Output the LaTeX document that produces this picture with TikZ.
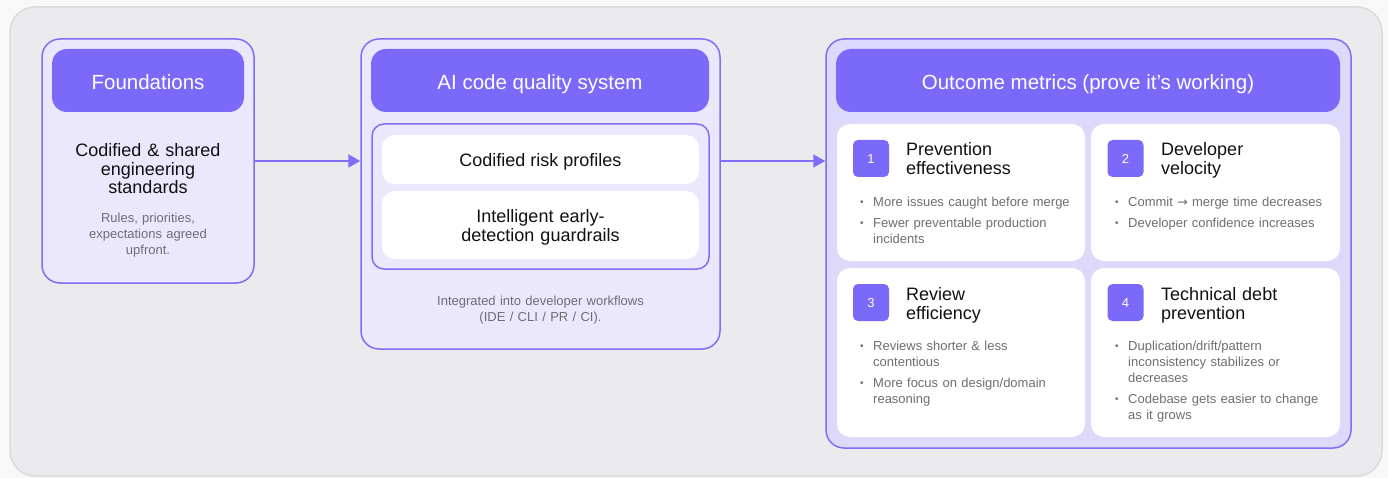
\documentclass[tikz,border=0pt]{standalone}
\usepackage{fontspec}
\setmainfont{Liberation Sans}
\newfontfamily\symfont{DejaVu Sans}
\usetikzlibrary{arrows.meta}
\definecolor{pagebg}{HTML}{F8F8F8}
\definecolor{outerfill}{HTML}{EBEBED}
\definecolor{outerline}{HTML}{DCDCDE}
\definecolor{lav}{HTML}{EBE8FD}
\definecolor{lavdeep}{HTML}{DDD9FA}
\definecolor{purp}{HTML}{7B69FA}
\definecolor{purpline}{HTML}{7F6EF6}
\definecolor{graytxt}{HTML}{6E6E73}
\definecolor{inktxt}{HTML}{111111}
\tikzset{
  box/.style={draw=purpline, line width=1.5pt, fill=lav, rounded corners=18pt, inner sep=0pt},
  hdr/.style={fill=purp, rounded corners=15pt, inner sep=0pt, text=white,
    font=\fontsize{20.5}{22}\selectfont, text height=18pt, text depth=0pt},
  card/.style={fill=white, rounded corners=13pt, inner sep=0pt},
  body/.style={text=inktxt, inner sep=0pt, align=center, anchor=base},
  note/.style={text=graytxt, inner sep=0pt, align=center, anchor=base,
    font=\fontsize{13}{16}\selectfont},
  ctitle/.style={text=inktxt, inner sep=0pt, align=left, anchor=base west,
    text width=170pt, font=\fontsize{18}{19}\selectfont},
  bul/.style={text=graytxt, inner sep=0pt, align=left, anchor=base west,
    text width=230pt, font=\fontsize{13}{16}\selectfont},
  sq/.style={fill=purp, rounded corners=5pt, inner sep=0pt, minimum width=36pt,
    minimum height=37pt, text=white, font=\fontsize{13}{13}\selectfont,
    text height=9.3pt, text depth=0pt},
  arr/.style={draw=purpline, line width=2pt, -{Triangle[length=12pt,width=13pt]}}
}
\newcommand{\bdot}{\makebox[13pt][l]{\raisebox{1.4pt}{\fontsize{10}{10}\selectfont\textbullet}}}
\newcommand{\bind}{\hspace*{13pt}}
\newcommand{\rarr}{{\symfont\fontsize{12.5}{10}\selectfont →}}
\begin{document}
\begin{tikzpicture}[x=1pt,y=-1pt]
\useasboundingbox (0,0) rectangle (1388,478);
\fill[pagebg] (0,0) rectangle (1388,478);
\draw[outerline, fill=outerfill, line width=1.5pt, rounded corners=25pt] (10,7) rectangle (1382,476);

% Foundations
\node[box, minimum width=212pt, minimum height=244pt] (found) at (148,161) {};
\node[hdr, minimum width=192pt, minimum height=63pt] (foundH) at (148,80.5) {Foundations};
\node[body, text width=200pt, font=\fontsize{18}{18.5}\selectfont] (foundT) at (148,157)
  {Codified \& shared\\engineering\\standards};
\node[note, text width=200pt] (foundN) at (148,222.5) {Rules, priorities,\\expectations agreed\\upfront.};

% AI code quality system
\node[box, minimum width=359pt, minimum height=310pt] (mid) at (540.5,194) {};
\node[hdr, minimum width=338pt, minimum height=63pt] (midH) at (540,80.5) {AI code quality system};
\node[box, rounded corners=12pt, minimum width=337pt, minimum height=145pt] (inner) at (540.5,196.5) {};
\node[card, minimum width=317pt, minimum height=49pt, text=inktxt,
  font=\fontsize{18}{19}\selectfont, text height=14pt, text depth=0pt] (cardA) at (540.5,159.5) {Codified risk profiles};
\node[card, minimum width=317pt, minimum height=68pt] (cardB) at (540.5,225) {};
\node[body, text width=300pt, font=\fontsize{18}{19}\selectfont] (cardBT) at (540.5,223)
  {Intelligent early-\\detection guardrails};
\node[note, text width=330pt] (midN) at (540.5,305) {Integrated into developer workflows\\(IDE / CLI / PR / CI).};

% Outcome metrics
\node[box, fill=lavdeep, minimum width=525pt, minimum height=409pt] (out) at (1088.5,243.5) {};
\node[hdr, minimum width=504pt, minimum height=63pt] (outH) at (1088,80.5) {Outcome metrics (prove it’s working)};
\node[card, minimum width=248pt, minimum height=137pt] (c1) at (961,192.5) {};
\node[card, minimum width=249pt, minimum height=137pt] (c2) at (1215.5,192.5) {};
\node[card, minimum width=248pt, minimum height=169pt] (c3) at (961,352.5) {};
\node[card, minimum width=249pt, minimum height=169pt] (c4) at (1215.5,352.5) {};

\node[sq] (s1) at (871,158.5) {1};
\node[sq] (s2) at (1125.5,158.5) {2};
\node[sq] (s3) at (871,302.5) {3};
\node[sq] (s4) at (1125.5,302.5) {4};

\node[ctitle] (t1) at (906,156) {Prevention\\effectiveness};
\node[ctitle] (t2) at (1161,156) {Developer\\velocity};
\node[ctitle] (t3) at (906,300) {Review\\efficiency};
\node[ctitle] (t4) at (1161,300) {Technical debt\\prevention};

\node[bul] (b11) at (860,206.5) {\bdot More issues caught before merge};
\node[bul] (b12) at (860,227.5) {\bdot Fewer preventable production\\\bind incidents};
\node[bul] (b21) at (1115,206.5) {\bdot Commit \rarr{} merge time decreases};
\node[bul] (b22) at (1115,227.5) {\bdot Developer confidence increases};
\node[bul] (b31) at (860,350.5) {\bdot Reviews shorter \& less\\\bind contentious};
\node[bul] (b32) at (860,387.5) {\bdot More focus on design/domain\\\bind reasoning};
\node[bul] (b41) at (1115,350.5) {\bdot Duplication/drift/pattern\\\bind inconsistency stabilizes or\\\bind decreases};
\node[bul] (b42) at (1115,403.5) {\bdot Codebase gets easier to change\\\bind as it grows};

% arrows
\draw[arr] (found.east) -- (found.east -| mid.west);
\draw[arr] (mid.east |- found.east) -- (found.east -| out.west);
\end{tikzpicture}
\end{document}
